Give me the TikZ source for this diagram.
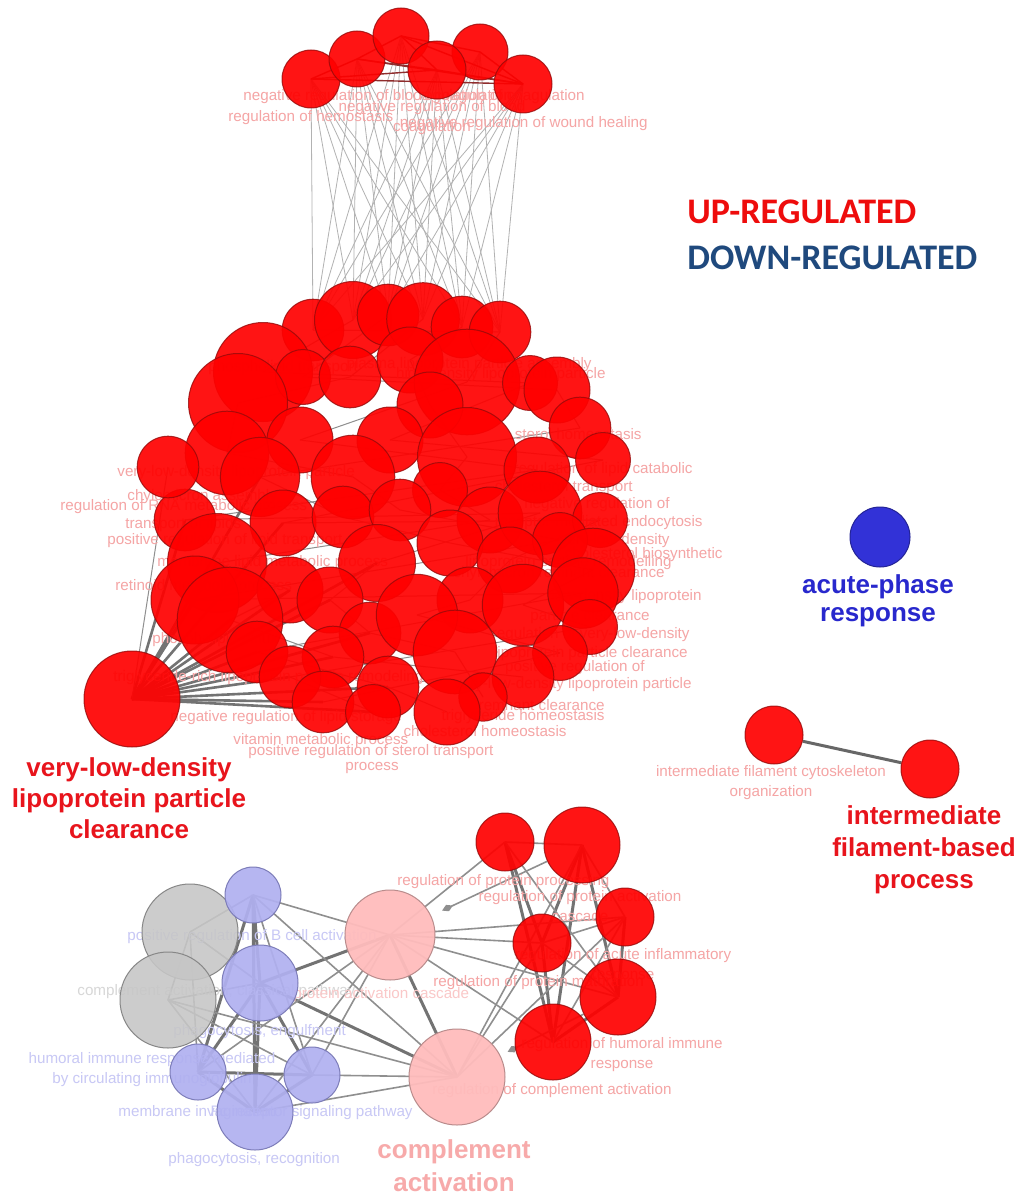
\documentclass[tikz,border=0pt]{standalone}
\usepackage{fontspec}
\setmainfont{Liberation Sans}
\newfontfamily\legendfont{Carlito}
\usetikzlibrary{arrows.meta,backgrounds}

\definecolor{upfill}{RGB}{255,0,0}
\definecolor{upborder}{RGB}{150,10,10}
\definecolor{pinkfill}{RGB}{255,188,188}
\definecolor{pinkborder}{RGB}{185,140,140}
\definecolor{lavfill}{RGB}{176,176,240}
\definecolor{lavborder}{RGB}{125,125,185}
\definecolor{greyfill}{RGB}{198,198,198}
\definecolor{greyborder}{RGB}{135,135,135}
\definecolor{downfill}{RGB}{50,50,215}
\definecolor{lblred}{RGB}{245,165,165}
\definecolor{lblblue}{RGB}{200,200,245}
\definecolor{lblgrey}{RGB}{215,215,215}
\definecolor{lblpink}{RGB}{250,200,200}
\definecolor{termred}{RGB}{232,20,28}
\definecolor{termpink}{RGB}{247,170,170}
\definecolor{termblue}{RGB}{40,40,205}
\definecolor{legred}{RGB}{238,12,12}
\definecolor{legblue}{RGB}{31,73,125}
\definecolor{edgegrey}{RGB}{115,115,115}

\begin{document}
\begin{tikzpicture}[x=0.5pt,y=-0.5pt,
	upnode/.style={circle,draw=upborder,fill=upfill,fill opacity=0.92,draw opacity=0.8,line width=0.5pt,inner sep=0pt},
	pinknode/.style={circle,draw=pinkborder,fill=pinkfill,fill opacity=0.95,line width=0.5pt,inner sep=0pt},
	lavnode/.style={circle,draw=lavborder,fill=lavfill,fill opacity=0.92,line width=0.5pt,inner sep=0pt},
	greynode/.style={circle,draw=greyborder,fill=greyfill,fill opacity=0.88,line width=0.5pt,inner sep=0pt},
	downnode/.style={circle,draw=downfill!70!black,fill=downfill,line width=0.5pt,inner sep=0pt},
	lbl/.style={inner sep=0pt,text=lblred,font=\fontsize{7.6}{10}\selectfont,align=center},
	term/.style={inner sep=0pt,font=\bfseries\fontsize{13}{15.5}\selectfont,align=center},
	legend/.style={inner sep=0pt,anchor=west,font=\legendfont\bfseries\fontsize{18}{20}\selectfont},
	linkedge/.style={draw=gray!60,line width=0.4pt},
	topedge/.style={draw=upborder!70!gray,line width=0.7pt},
	inedge/.style={draw=edgegrey!80,line width=0.5pt},
	fanedge/.style={draw=edgegrey,line width=1.3pt},
	thinedge/.style={draw=edgegrey!80,line width=0.8pt},
	thickedge/.style={draw=edgegrey,line width=1.5pt}]
	\useasboundingbox (0,0) rectangle (1020,1198);

	% pale term labels, under the circles
	\foreach \px/\py/\anc/\txt [count=\i] in {
		243/97/west/negative regulation of blood coagulation,
		585/97/east/regulation of coagulation,
		228/118/west/regulation of hemostasis,
		648/124/east/negative regulation of wound healing,
		592/365/east/plasma lipoprotein particle assembly,
		606/375/east/high-density lipoprotein particle,
		642/434/east/sterol homeostasis,
		693/470/east/regulation of lipid catabolic,
		633/488/east/cholesterol transport,
		670/505/east/negative regulation of,
		703/523/east/receptor-mediated endocytosis,
		670/541/east/very-low-density,
		723/555/east/cholesterol biosynthetic,
		672/563/east/lipoprotein particle remodelling,
		665/574/east/chylomicron remnant clearance,
		702/597/east/low-density lipoprotein,
		650/617/east/particle clearance,
		690/635/east/regulation of very-low-density,
		688/654/east/lipoprotein particle clearance,
		645/668/east/positive regulation of,
		692/685/east/very-low-density lipoprotein particle,
		605/705/east/remnant clearance,
		605/717/east/triglyceride homeostasis,
		567/731/east/cholesterol homeostasis,
		208/368/west/phospholipid transport,
		117/473/west/very-low-density lipoprotein particle,
		127/497/west/chylomicron assembly,
		60/507/west/regulation of RNA metabolic process,
		125/525/west/transport of lipids,
		107/541/west/positive regulation of lipid transport,
		157/563/west/membrane lipid metabolic process,
		115/587/west/retinoid metabolic process,
		152/640/west/phospholipid efflux,
		113/678/west/triglyceride-rich lipoprotein particle remodeling,
		170/718/west/negative regulation of lipid storage,
		233/741/west/vitamin metabolic process,
		248/752/west/positive regulation of sterol transport,
		372/768/center/process,
		397/882/west/regulation of protein processing,
		433/983/west/regulation of protein maturation,
		432/1091/west/regulation of complement activation}
		\node[lbl,anchor=\anc] (lab\i) at (\px,\py) {\txt};
	\node[lbl] (labblood) at (432,118) {negative regulation of blood\\coagulation};
	\node[lbl] (labcascade) at (580,906) {regulation of protein activation\\cascade};
	\node[lbl] (labacute) at (623,966) {regulation of acute inflammatory\\response};
	\node[lbl] (labhumoral) at (622,1055) {regulation of humoral immune\\response};
	\node[lbl] (labfil) at (771,783) {intermediate filament cytoskeleton\\organization};
	\node[lbl,text=lblblue,anchor=west] (labbcell) at (127,937) {positive regulation of B cell activation};
	\node[lbl,text=lblgrey,anchor=west] (labclassic) at (77,992) {complement activation, classical pathway};
	\node[lbl,text=lblpink,anchor=west] (labpac) at (293,995) {protein activation cascade};
	\node[lbl,text=lblblue,anchor=west] (labengulf) at (173,1032) {phagocytosis, engulfment};
	\node[lbl,text=lblblue] (labcirc) at (152,1070) {humoral immune response mediated\\by circulating immunoglobulin};
	\node[lbl,text=lblblue,anchor=west] (labinvag) at (118,1113) {membrane invagination};
	\node[lbl,text=lblblue,anchor=east] (labfc) at (413,1113) {Fc receptor signaling pathway};
	\node[lbl,text=lblblue,anchor=west] (labrecog) at (168,1160) {phagocytosis, recognition};

	% top group
	\foreach \k/\px/\py/\rad in {1/311/79/29, 2/357/59/28, 3/401/36/28, 5/480/52/28, 4/437/70/29, 6/523/84/29}
		\node[upnode,minimum size=\rad pt] (t\k) at (\px,\py) {};

	% big lipoprotein group
	\foreach \px/\py/\rad [count=\i] in {
		313/330/28, 353/320/35, 388/315/28, 423/319/33, 462/327/28, 500/332/28,
		263/372/45, 303/377/25, 350/377/28, 410/360/30, 467/382/48, 530/383/25,
		557/390/30, 238/403/45, 430/405/30, 300/440/30, 390/440/30, 580/428/28,
		227/453/38, 467/457/45, 537/470/30, 603/460/25, 260/477/36, 353/477/38,
		440/490/25, 185/520/28, 283/523/30, 343/517/28, 400/510/28, 490/520/30,
		540/513/38, 600/520/25, 450/543/30, 560/540/25, 217/563/45, 377/563/35,
		510/560/30, 593/570/38, 195/600/40, 290/590/30, 330/600/30, 470/600/30,
		523/605/37, 583/593/32, 230/620/48, 370/633/28, 417/615/37, 590/627/25,
		257/652/28, 333/657/28, 455/652/38, 560/653/25, 290/677/28, 388/687/28,
		523/677/28, 483/697/22, 323/702/28, 373/712/25, 447/712/30, 168/467/28}
		\node[upnode,minimum size=1.1*\rad pt] (b\i) at (\px,\py) {};
	\node[upnode,minimum size=48pt] (vldl) at (132,699) {};

	% isolated terms
	\node[downnode,minimum size=30pt] (acute) at (880,537) {};
	\node[upnode,minimum size=29pt] (fil1) at (774,735) {};
	\node[upnode,minimum size=29pt] (fil2) at (930,769) {};

	% complement group
	\node[greynode,minimum size=48pt] (g1) at (190,932) {};
	\node[greynode,minimum size=48pt] (g2) at (168,1000) {};
	\node[lavnode,minimum size=28pt] (l1) at (253,895) {};
	\node[lavnode,minimum size=38pt] (l2) at (260,983) {};
	\node[lavnode,minimum size=28pt] (l3) at (198,1072) {};
	\node[lavnode,minimum size=28pt] (l4) at (312,1075) {};
	\node[lavnode,minimum size=38pt] (l5) at (255,1112) {};
	\node[pinknode,minimum size=45pt] (p1) at (390,935) {};
	\node[pinknode,minimum size=48pt] (p2) at (457,1077) {};
	\node[upnode,minimum size=29pt] (r1) at (505,842) {};
	\node[upnode,minimum size=38pt] (r2) at (582,845) {};
	\node[upnode,minimum size=29pt] (r3) at (625,917) {};
	\node[upnode,minimum size=29pt] (r4) at (542,943) {};
	\node[upnode,minimum size=38pt] (r5) at (618,997) {};
	\node[upnode,minimum size=38pt] (r6) at (553,1042) {};

	% group names
	\node[term,text=termred] (vldllbl) at (129,798) {very-low-density\\lipoprotein particle\\clearance};
	\node[term,text=termred,font=\bfseries\fontsize{13}{16}\selectfont] (fillbl) at (924,850) {intermediate\\filament-based\\process};
	\node[term,text=termblue,font=\bfseries\fontsize{13}{14}\selectfont] (acutelbl) at (878,601) {acute-phase\\response};
	\node[term,text=termpink,font=\bfseries\fontsize{13}{16.5}\selectfont] (complbl) at (454,1166) {complement\\activation};
	\node[legend,text=legred] (uplbl) at (687,212) {UP-REGULATED};
	\node[legend,text=legblue] (downlbl) at (687,258) {DOWN-REGULATED};

	\begin{scope}[on background layer]
	\fill[white] (0,0) rectangle (1020,1198);
	% links top group -> big group
	\foreach \a in {1,...,6}
		\foreach \b in {1,...,6}
			\draw[linkedge] (t\a.center) -- (b\b.center);
	\foreach \a/\b in {1/2,1/4,1/6,2/3,2/4,2/6,3/4,3/5,3/6,4/6,5/6}
		\draw[topedge] (t\a.center) -- (t\b.center);
	% inside the big group
	\foreach \i in {1,...,54} {
		\pgfmathtruncatemacro\j{\i+5}
		\draw[inedge] (b\i.center) -- (b\j.center);
	}
	\foreach \k in {23,26,27,35,36,39,40,41,45,46,49,50,53,54,57,58}
		\draw[fanedge] (vldl.center) -- (b\k.center);
	\draw[inedge] (vldl.center) -- (b60.center);
	\draw[thickedge,draw=edgegrey!90!black] (fil1) -- (fil2);
	% complement group edges
	\foreach \a/\b in {l1/l2,l1/l3,l1/l5,l2/l3,l2/l5,l2/l4,l3/l4,l3/l5,l4/l5,l2/p2,p1/p2,l2/p1,
		r1/r4,r1/r6,r2/r4,r2/r5,r3/r5,r4/r6,r5/r6,r2/r6}
		\draw[thickedge] (\a.center) -- (\b.center);
	\foreach \a/\b in {l1/p1,l1/p2,l1/l4,g1/l3,g1/l2,g2/l2,g2/l4,g1/g2,g1/l1,l4/p1,l3/p1,l5/p2,
		l4/p2,g2/l5,l5/p1,g2/p2,p1/r1,p1/r3,p1/r4,p1/r5,p1/r6,p2/r2,p2/r4,p2/r3,
		r1/r2,r1/r5,r2/r3,r3/r4,r3/r6,r4/r5}
		\draw[thinedge] (\a.center) -- (\b.center);
	\draw[thinedge,{Diamond[length=6pt,width=3.5pt]}-,shorten <=6pt] (p1) -- (r2);
	\draw[thinedge,{Diamond[length=6pt,width=3.5pt]}-,shorten <=4pt] (p2) -- (r5);
	\end{scope}
\end{tikzpicture}
\end{document}
